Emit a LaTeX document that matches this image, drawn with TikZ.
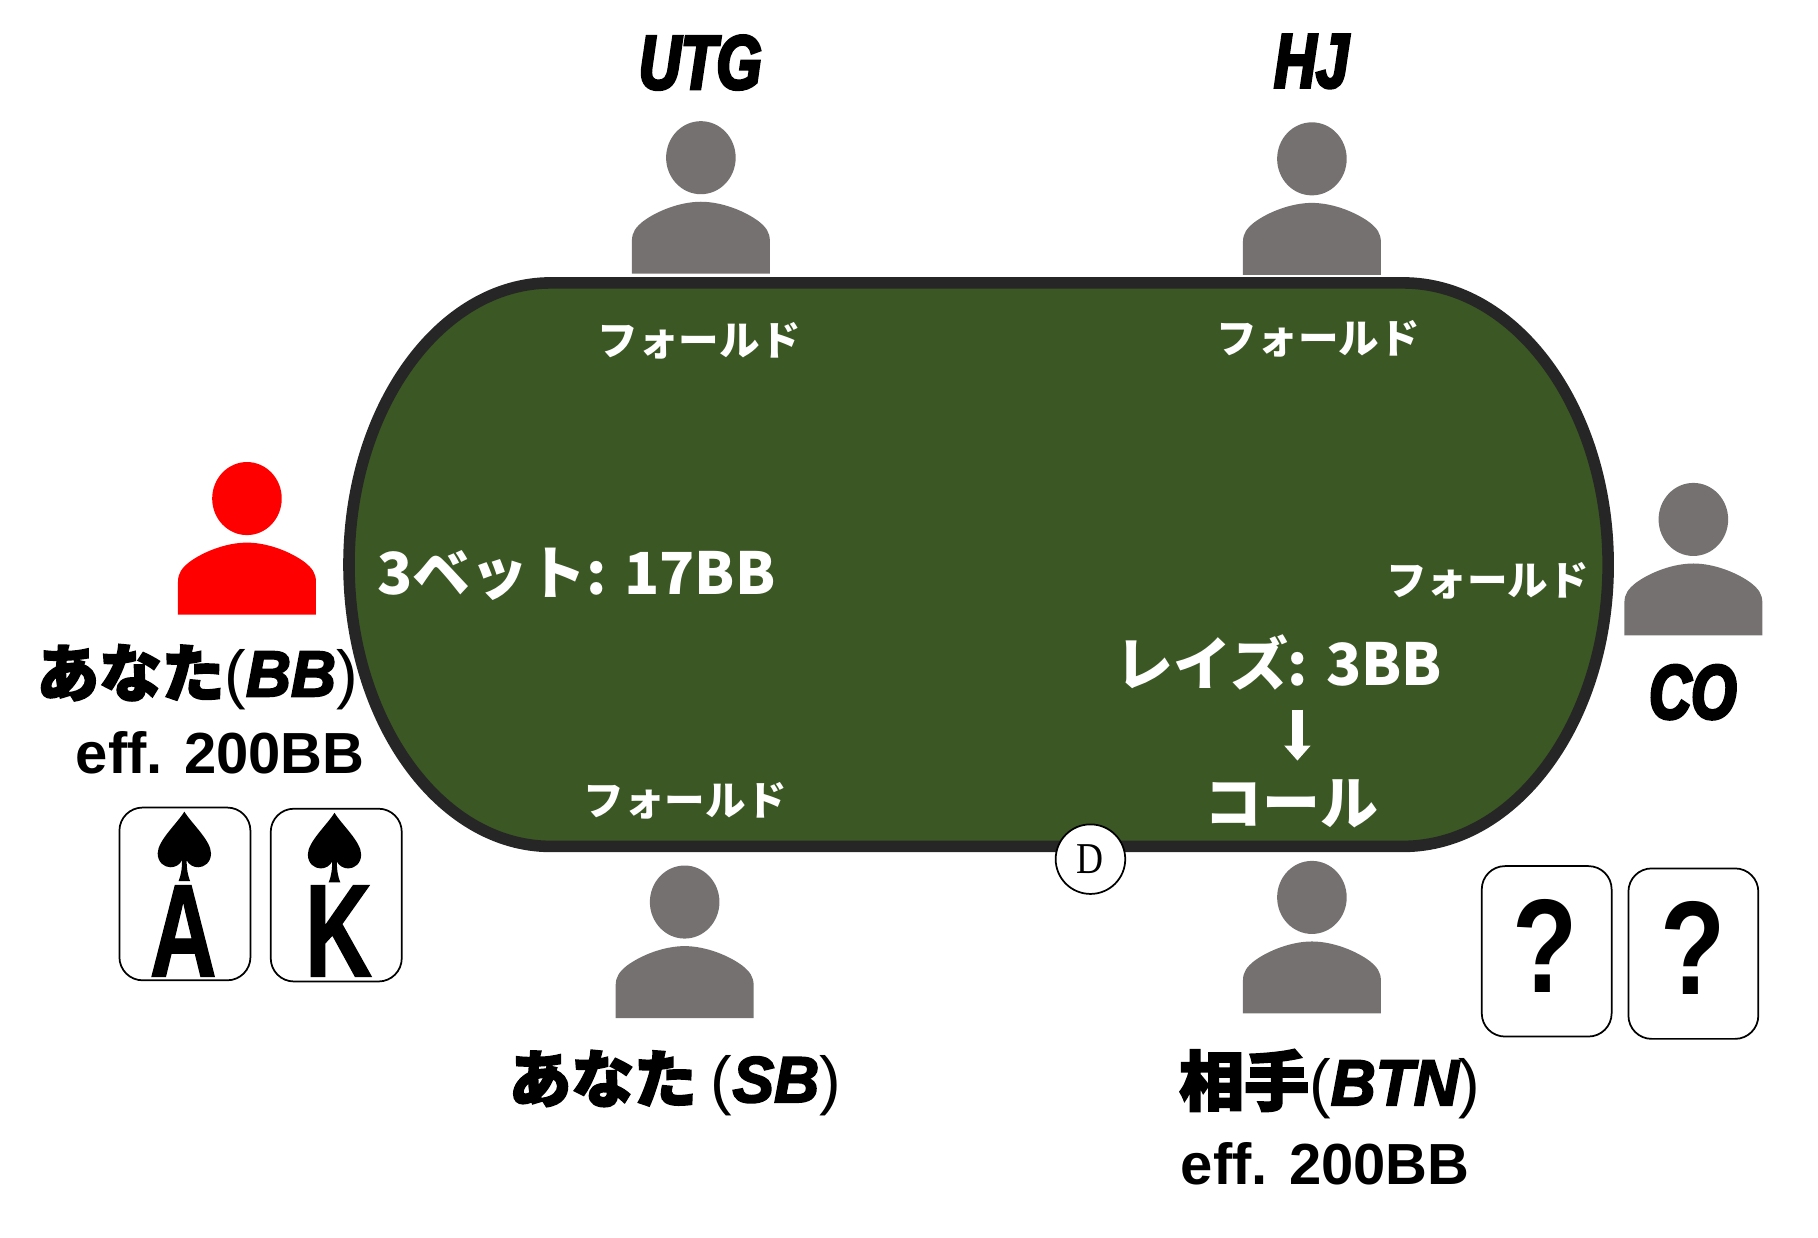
\documentclass[tikz,border=0pt]{standalone}
\usepackage{fontspec}
\usetikzlibrary{arrows.meta}
\setmainfont{Liberation Sans}
\newfontfamily\jpfont{Noto Sans CJK JP}
\newfontfamily\jpheavy{Noto Sans CJK JP}[FakeBold=3]
\newfontfamily\labelfont{Liberation Sans}[FakeStretch=0.76,FakeBold=4]
\newfontfamily\namefont{Liberation Sans}[FakeBold=3,FakeStretch=0.96]
\newfontfamily\cardfont{Liberation Sans}[FakeStretch=0.7,FakeBold=1]
\newfontfamily\markfont{Liberation Sans}[FakeStretch=0.8]
\newfontfamily\dealerfont{Liberation Serif}[FakeStretch=0.85]
\newcommand{\fsize}[1]{\fontsize{#1}{#1}\selectfont}
\newcommand{\namelatin}[1]{{\rmfamily\mdseries\fsize{56}(}{\namefont\bfseries\itshape\fsize{56}#1}{\rmfamily\mdseries\fsize{56})}}
\definecolor{tablegreen}{HTML}{3B5723}
\definecolor{tableedge}{HTML}{262626}
\definecolor{seatgray}{HTML}{767171}
\tikzset{
  pics/seat/.style={code={
    \fill (0,-38) ellipse [x radius=30, y radius=31.5];
    \fill (-59.5,62) -- (-59.5,34) .. controls (-59.5,26) and (-56,22) .. (-50,17)
      .. controls (-38,8) and (-18,0) .. (0,0) .. controls (18,0) and (38,8) .. (50,17)
      .. controls (56,22) and (59.5,26) .. (59.5,34) -- (59.5,62) -- cycle;
  }},
  pics/spade/.style={code={
    \fill (0,0) .. controls (-6,10) and (-23,25) .. (-23,36) .. controls (-23,44) and (-17,48) .. (-12,48)
      .. controls (-8,48) and (-4,46) .. (-2,42) .. controls (-2,50) and (-3,55) .. (-5,60) -- (5,60)
      .. controls (3,55) and (2,50) .. (2,42) .. controls (4,46) and (8,48) .. (12,48)
      .. controls (17,48) and (23,44) .. (23,36) .. controls (23,25) and (6,10) .. (0,0) -- cycle;
  }}
}
\begin{document}
\begin{tikzpicture}[x=1pt,y=-1pt,
  seat label/.style={inner sep=0pt,font=\labelfont\bfseries\itshape\fsize{66}},
  name label/.style={inner sep=0pt,font=\jpheavy\bfseries\fsize{54}},
  eff label/.style={inner sep=0pt,font=\bfseries\fsize{50}},
  fold label/.style={inner sep=0pt,text=white,font=\jpfont\bfseries\fsize{35}},
  bet label/.style={inner sep=0pt,text=white,font=\jpfont\bfseries\fsize{50}},
  card/.style={draw,line width=1.5pt,rounded corners=20pt,fill=white,inner sep=0pt,minimum width=113pt,minimum height=149pt},
  card letter/.style={inner sep=0pt,font=\cardfont\bfseries\fsize{114}},
  card mark/.style={inner sep=0pt,font=\markfont\bfseries\fsize{115}}]

  \useasboundingbox (0,0) rectangle (1568,1067.7);

  % table
  \draw[line width=10pt,draw=tableedge,fill=tablegreen]
    (475,244) -- (1210,244) .. controls (1308,244) and (1387,353) .. (1387,487)
    .. controls (1387,621) and (1308,730) .. (1210,730) -- (475,730)
    .. controls (379,730) and (301,621) .. (301,487) .. controls (301,353) and (379,244) .. (475,244) -- cycle;

  % seats
  \pic[seatgray] at (604.5,174) {seat};
  \pic[seatgray] at (1131.5,175) {seat};
  \pic[red] at (213,468) {seat};
  \pic[seatgray] at (1460.5,486) {seat};
  \pic[seatgray] at (590.5,816) {seat};
  \pic[seatgray] at (1131.5,812) {seat};

  % seat names
  \node[seat label] (utg) at (604,54) {UTG};
  \node[seat label] (hj) at (1131,53) {HJ};
  \node[seat label] (co) at (1460,597) {CO};
  \node[name label] (bb) at (170,584) {あなた\namelatin{BB}};
  \node[name label] (sb) at (582,934) {あなた \namelatin{SB}};
  \node[name label,font=\jpheavy\bfseries\fsize{56}] (btn) at (1147,935) {相手\namelatin{BTN}};
  \node[eff label] (effbb) at (190,649) {eff. 200BB};
  \node[eff label] (effbtn) at (1143,1004) {eff. 200BB};

  % actions
  \node[fold label] (foldutg) at (603,294) {フォールド};
  \node[fold label] (foldhj) at (1137,292) {フォールド};
  \node[fold label] (foldsb) at (591,691) {フォールド};
  \node[fold label] (foldco) at (1283,501) {フォールド};
  \node[bet label] (threebet) at (497,495) {3ベット: 17BB};
  \node[bet label] (raise) at (1103,571) {レイズ: 3BB};
  \node[bet label] (call) at (1114,693) {コール};
  \coordinate (arrowtop) at (1119,612);
  \coordinate (arrowtip) at (1119,656);
  \draw[-{Triangle[width=22pt,length=13pt]},line width=10pt,white] (arrowtop) -- (arrowtip);

  % dealer button
  \node[circle,draw,line width=1.5pt,fill=white,minimum size=60pt,inner sep=0pt,font=\dealerfont\fsize{38}] (dealer) at (940.5,741) {D};

  % cards
  \node[card] (cardA) at (159.5,771) {};
  \node[card] (cardK) at (290,772) {};
  \node[card,minimum width=112pt,minimum height=147pt] (cardq1) at (1334,820.5) {};
  \node[card,minimum width=112pt,minimum height=147pt] (cardq2) at (1460.5,822.5) {};
  \pic at (159,700) {spade};
  \pic at (288.5,701) {spade};
  \node[card letter] (letterA) at (158,803) {A};
  \node[card letter] (letterK) at (292,803) {K};
  \node[card mark] (markq1) at (1333,816) {?};
  \node[card mark] (markq2) at (1460,818) {?};
\end{tikzpicture}
\end{document}
